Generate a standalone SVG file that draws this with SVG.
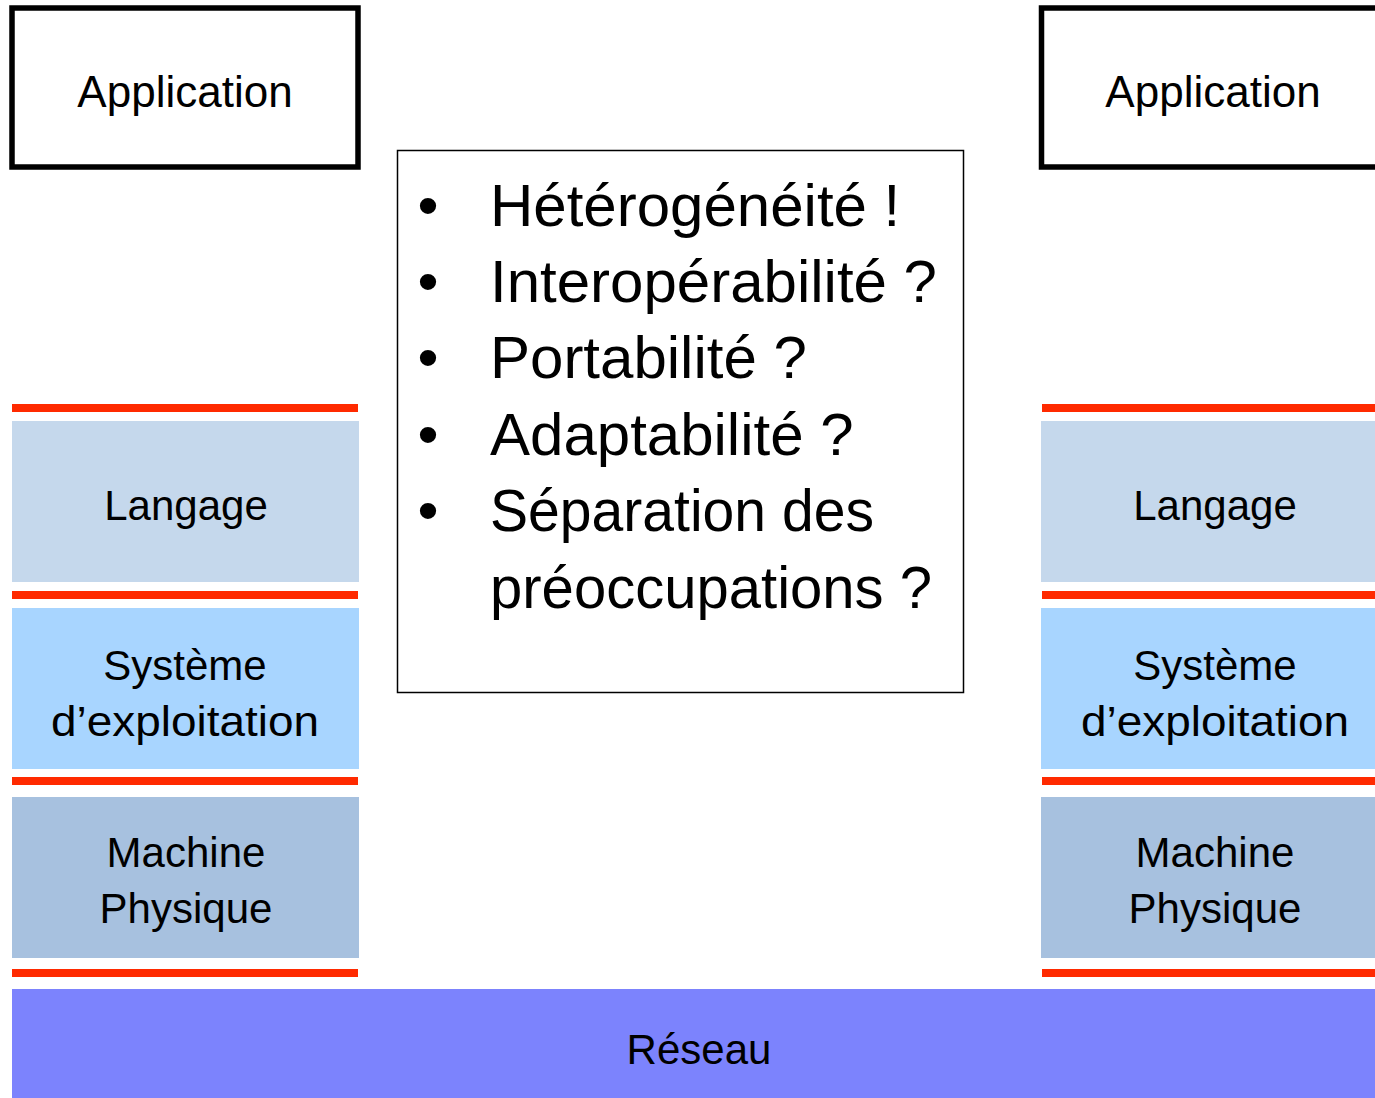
<svg xmlns="http://www.w3.org/2000/svg" width="1375" height="1098" viewBox="0 0 1375 1098">
<style>
  text { font-family: "Liberation Sans", Arial, sans-serif; fill: #000; }
  .lbl { font-size: 42px; text-anchor: middle; }
  .app { font-size: 44px; text-anchor: middle; }
  .big { font-size: 60px; }
  .appbox { fill: #fff; stroke: #000; stroke-width: 5.5; }
  .sep { fill: #ff2a00; }
  .lang { fill: #c5d8ec; }
  .os { fill: #a8d5ff; }
  .hw { fill: #a7c1df; }
  .net { fill: #7c83fd; }
</style>
<rect width="1375" height="1098" fill="#fff"/>

<g id="separators">
  <rect class="sep" x="12" y="404" width="346" height="8"/>
  <rect class="sep" x="12" y="591" width="346" height="8"/>
  <rect class="sep" x="12" y="777" width="346" height="8"/>
  <rect class="sep" x="12" y="969" width="346" height="8"/>
  <rect class="sep" x="1042" y="404" width="340" height="8"/>
  <rect class="sep" x="1042" y="591" width="340" height="8"/>
  <rect class="sep" x="1042" y="777" width="340" height="8"/>
  <rect class="sep" x="1042" y="969" width="340" height="8"/>
</g>

<g id="app-left">
  <rect class="appbox" x="12" y="8" width="346" height="159"/>
  <text class="app" x="185" y="107">Application</text>
</g>
<g id="app-right">
  <rect class="appbox" x="1041.5" y="8" width="345" height="159"/>
  <text class="app" x="1213" y="107">Application</text>
</g>

<g id="lang-left">
  <rect class="lang" x="12" y="421" width="347" height="161"/>
  <text class="lbl" x="186" y="520">Langage</text>
</g>
<g id="lang-right">
  <rect class="lang" x="1041" y="421" width="334" height="161"/>
  <text class="lbl" x="1215" y="520">Langage</text>
</g>

<g id="os-left">
  <rect class="os" x="12" y="608" width="347" height="161"/>
  <text class="lbl" x="185" y="680">Système</text>
  <text class="lbl" x="185" y="736" textLength="268" lengthAdjust="spacingAndGlyphs">d’exploitation</text>
</g>
<g id="os-right">
  <rect class="os" x="1041" y="608" width="334" height="161"/>
  <text class="lbl" x="1215" y="680">Système</text>
  <text class="lbl" x="1215" y="736" textLength="268" lengthAdjust="spacingAndGlyphs">d’exploitation</text>
</g>

<g id="hw-left">
  <rect class="hw" x="12" y="797" width="347" height="161"/>
  <text class="lbl" x="186" y="867">Machine</text>
  <text class="lbl" x="186" y="923">Physique</text>
</g>
<g id="hw-right">
  <rect class="hw" x="1041" y="797" width="334" height="161"/>
  <text class="lbl" x="1215" y="867">Machine</text>
  <text class="lbl" x="1215" y="923">Physique</text>
</g>

<g id="network">
  <rect class="net" x="12" y="989" width="1363" height="109"/>
  <text class="lbl" x="699" y="1064">Réseau</text>
</g>

<g id="issues">
  <rect x="397.5" y="150.5" width="566" height="542" fill="#fff" stroke="#000" stroke-width="1.5"/>
  <text class="big" x="428" y="226" text-anchor="middle">•</text>
  <text class="big" x="428" y="302" text-anchor="middle">•</text>
  <text class="big" x="428" y="378" text-anchor="middle">•</text>
  <text class="big" x="428" y="455" text-anchor="middle">•</text>
  <text class="big" x="428" y="531" text-anchor="middle">•</text>
  <text class="big" x="490" y="226">Hétérogénéité !</text>
  <text class="big" x="490" y="302">Interopérabilité ?</text>
  <text class="big" x="490" y="378">Portabilité ?</text>
  <text class="big" x="490" y="455">Adaptabilité ?</text>
  <text class="big" x="490" y="531" textLength="384" lengthAdjust="spacingAndGlyphs">Séparation des</text>
  <text class="big" x="490" y="608" textLength="442" lengthAdjust="spacingAndGlyphs">préoccupations ?</text>
</g>
</svg>
